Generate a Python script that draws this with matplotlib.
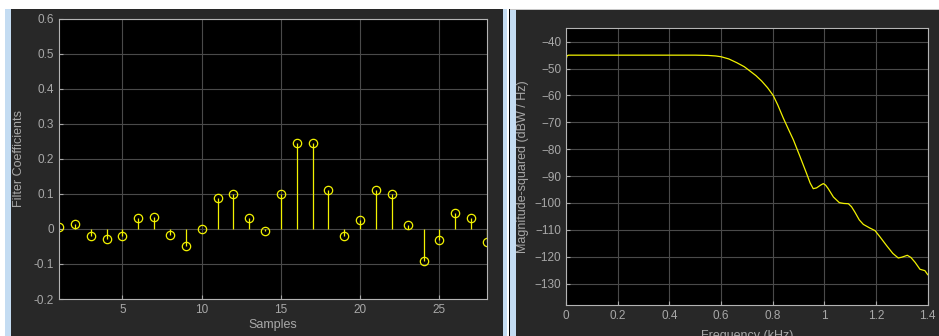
import matplotlib.pyplot as plt
from matplotlib.patches import Rectangle

# filter taps (left panel)
samples = list(range(1, 29))
coeffs = [0.005, 0.014, -0.020, -0.030, -0.020, 0.031, 0.034, -0.017, -0.048, -0.001,
          0.089, 0.100, 0.031, -0.007, 0.100, 0.247, 0.247, 0.112, -0.020, 0.025,
          0.112, 0.100, 0.011, -0.092, -0.031, 0.045, 0.031, -0.038]

# magnitude response (right panel)
freq_khz = [0.0, 0.004, 0.01, 0.1, 0.2, 0.3, 0.4, 0.5, 0.55, 0.58, 0.601, 0.63, 0.661,
            0.69, 0.712, 0.735, 0.757, 0.78, 0.802, 0.82, 0.841, 0.86, 0.880, 0.906,
            0.931, 0.945, 0.957, 0.970, 0.985, 0.996, 1.005, 1.015, 1.035, 1.058, 1.075,
            1.093, 1.105, 1.118, 1.135, 1.151, 1.175, 1.196, 1.215, 1.241, 1.265, 1.286,
            1.300, 1.321, 1.335, 1.351, 1.370, 1.389, 1.400]
mag_db = [-46.8, -45.2, -45.0, -45.0, -45.0, -45.0, -45.0, -45.0, -45.1, -45.3, -45.6,
          -46.4, -47.8, -49.3, -50.9, -52.6, -54.6, -57.1, -60.0, -63.6, -68.4, -72.4,
          -76.5, -82.8, -89.0, -92.6, -94.7, -94.4, -93.4, -92.8, -93.4, -94.7, -97.8,
          -99.9, -100.2, -100.3, -101.4, -103.4, -106.3, -108.0, -109.3, -110.3, -112.6,
          -115.9, -118.8, -120.5, -120.2, -119.5, -120.3, -122.1, -124.7, -125.2, -126.7]

W, H = 939, 336
panel = '#282828'
strip = '#c4dcf2'
yellow = '#f2f200'
tick_col = '#a8a8a8'
grid_col = '#4a4a4a'

plt.rcParams['font.family'] = ['Liberation Sans', 'DejaVu Sans']
fig = plt.figure(figsize=(W / 100, H / 100), dpi=100, facecolor='white')


def box(x0, y0, x1, y1, color):
    # rectangle in pixel coords (top-left origin)
    fig.add_artist(Rectangle((x0 / W, 1 - y1 / H), (x1 - x0) / W, (y1 - y0) / H,
                             transform=fig.transFigure, facecolor=color,
                             edgecolor='none', zorder=0))


box(5, 9, 11, H, strip)
box(11, 9, 503, H, panel)
box(503, 9, 507, H, strip)
box(509, 9, 510, H, 'black')
box(510, 8.5, W, 10, '#c8c8c8')
box(510, 10, 516, H, strip)
box(516, 10, W, H, panel)


def style(ax):
    ax.set_facecolor('black')
    for s in ax.spines.values():
        s.set_color('#b4b4b4')
        s.set_linewidth(0.8)
    ax.tick_params(colors=tick_col, labelsize=8.5, direction='in', length=3,
                   labelcolor=tick_col)
    ax.grid(True, color=grid_col, linewidth=0.8)
    ax.set_axisbelow(True)


# left: stem plot
ax1 = fig.add_axes([59 / W, 1 - 299 / H, 428 / W, 280 / H])
style(ax1)
ml, sl, bl = ax1.stem(samples, coeffs)
plt.setp(sl, color=yellow, linewidth=0.9)
plt.setp(ml, marker='o', markersize=6, markerfacecolor='none',
         markeredgecolor=yellow, markeredgewidth=0.9)
bl.set_visible(False)
ax1.set_xlim(1, 28)
ax1.set_ylim(-0.2, 0.6)
ax1.set_xticks([5, 10, 15, 20, 25])
yt = [-0.2, -0.1, 0, 0.1, 0.2, 0.3, 0.4, 0.5, 0.6]
ax1.set_yticks(yt)
ax1.set_yticklabels(['-0.2', '-0.1', '0', '0.1', '0.2', '0.3', '0.4', '0.5', '0.6'])
ax1.set_xlabel('Samples', color=tick_col, fontsize=9, labelpad=2)
ax1.set_ylabel('Filter Coefficients', color=tick_col, fontsize=9, labelpad=6)

# right: magnitude-squared
ax2 = fig.add_axes([566 / W, 1 - 305 / H, 361.7 / W, 276.7 / H])
style(ax2)
ax2.plot(freq_khz, mag_db, color=yellow, linewidth=0.9)
ax2.set_xlim(0, 1.4)
ax2.set_ylim(-138, -35)
xt = [0, 0.2, 0.4, 0.6, 0.8, 1.0, 1.2, 1.4]
ax2.set_xticks(xt)
ax2.set_xticklabels(['0', '0.2', '0.4', '0.6', '0.8', '1', '1.2', '1.4'])
ax2.set_yticks(list(range(-130, -39, 10)))
ax2.set_xlabel('Frequency (kHz)', color=tick_col, fontsize=9, labelpad=6)
ax2.set_ylabel('Magnitude-squared (dBW / Hz)', color=tick_col, fontsize=9, labelpad=4)

fig.savefig('out.png', dpi=100, facecolor='white')
